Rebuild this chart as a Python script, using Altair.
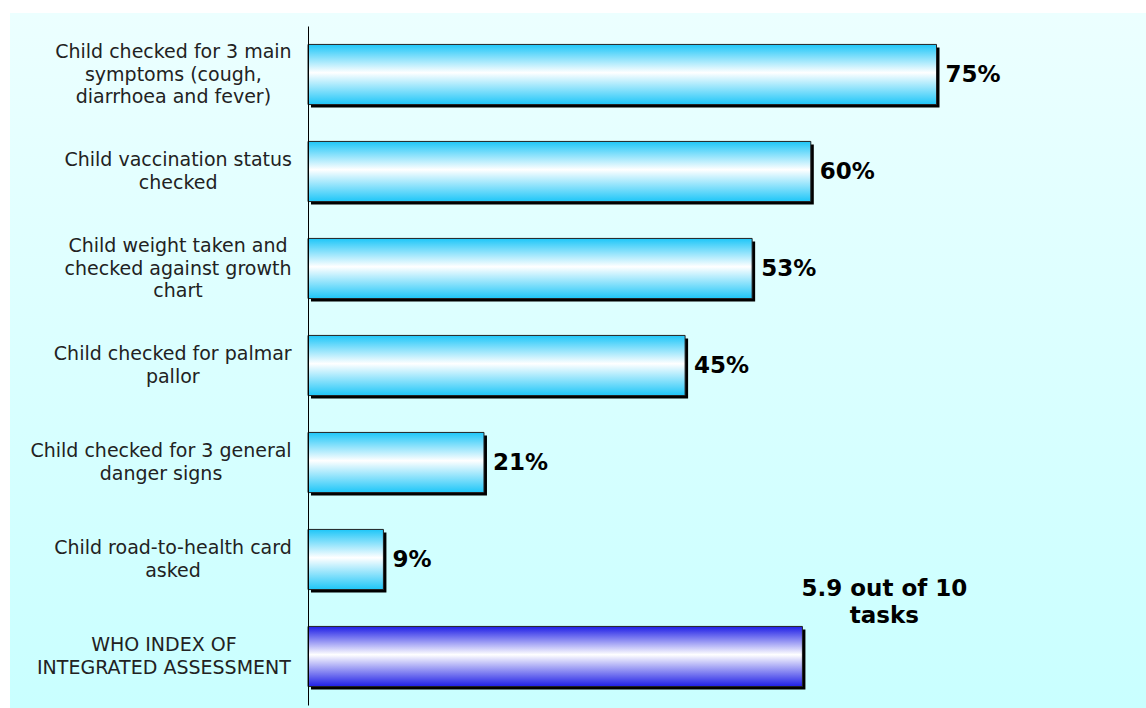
import altair as alt
import pandas as pd

# ---- data ----
categories = [
    "Child checked for 3 main|symptoms (cough,|diarrhoea and fever)",
    "Child vaccination status|checked",
    "Child weight taken and|checked against growth|chart",
    "Child checked for palmar|pallor",
    "Child checked for 3 general|danger signs",
    "Child road-to-health card|asked",
    "WHO INDEX OF|INTEGRATED ASSESSMENT",
]
values = [75, 60, 53, 45, 21, 9, 59]
value_labels = ["75%", "60%", "53%", "45%", "21%", "9%", ""]
kinds = ["task", "task", "task", "task", "task", "task", "index"]
annotation_lines = ["5.9 out of 10", "tasks"]

df = pd.DataFrame({
    "cat": categories,
    "value": values,
    "label": value_labels,
    "kind": kinds,
    "note": ["", "", "", "", "", "", "|".join(annotation_lines)],
})

# DejaVu Sans advance widths (em) used to centre each multi-line label block
# on its longest line, as the reference does.
EM = {
    " ": .318, "a": .613, "b": .635, "c": .550, "d": .635, "e": .615, "f": .352,
    "g": .635, "h": .634, "i": .278, "j": .278, "k": .579, "l": .278, "m": .974,
    "n": .634, "o": .612, "p": .635, "q": .635, "r": .411, "s": .521, "t": .392,
    "u": .634, "v": .592, "w": .818, "x": .592, "y": .592, "z": .525,
    "A": .684, "C": .698, "D": .770, "E": .632, "F": .575, "G": .775, "H": .752,
    "I": .295, "M": .863, "N": .748, "O": .787, "R": .695, "S": .635, "T": .611,
    "W": .989, "X": .685, "3": .636, "(": .390, ")": .390, ",": .318, "-": .361,
}
LABEL_SIZE = 19
LABEL_GAP = 16


def text_width(s):
    return sum(EM.get(ch, 0.6) for ch in s) * LABEL_SIZE


label_rows = []
for cat in categories:
    lines = cat.split("|")
    n = len(lines)
    maxw = max(text_width(l) for l in lines)
    for i, line in enumerate(lines):
        label_rows.append({
            "cat": cat,
            "line": line,
            "slot": i - (n - 1) / 2,
            "lx": -LABEL_GAP - maxw / 2,
        })
ldf = pd.DataFrame(label_rows)

W, H = 838, 679

yaxis = alt.Axis(
    title=None, labels=False, ticks=False,
    domainColor="#000000", domainWidth=1, zindex=1,
)
Y = alt.Y("cat:N", sort=None,
          scale=alt.Scale(domain=categories, paddingInner=0.38, paddingOuter=0.19),
          axis=yaxis)
X = alt.X("value:Q", scale=alt.Scale(domain=[0, 100], nice=False, zero=True), axis=None)


def grad(edge):
    return alt.Gradient(
        gradient="linear", x1=0, y1=0, x2=0, y2=1,
        stops=[
            alt.GradientStop(color=edge, offset=0),
            alt.GradientStop(color="#ffffff", offset=0.47),
            alt.GradientStop(color=edge, offset=1),
        ],
    )


bg = alt.Chart(pd.DataFrame({"a": [0]})).mark_rect(
    fill=alt.Gradient(
        gradient="linear", x1=0, y1=0, x2=0, y2=1,
        stops=[alt.GradientStop(color="#ecffff", offset=0),
               alt.GradientStop(color="#c9ffff", offset=1)],
    )
).encode(x=alt.value(-298), x2=alt.value(W), y=alt.value(-13), y2=alt.value(H + 3))

base = alt.Chart(df)

shadow = base.mark_bar(color="#000000", xOffset=3, x2Offset=3, yOffset=3).encode(x=X, y=Y)

bars_task = base.transform_filter("datum.kind == 'task'").mark_bar(
    fill=grad("#1ec6f8"), stroke="#222222", strokeWidth=1
).encode(x=X, y=Y)

bars_index = base.transform_filter("datum.kind == 'index'").mark_bar(
    fill=grad("#1e1ee6"), stroke="#222222", strokeWidth=1
).encode(x=X, y=Y)

labels = base.mark_text(
    align="left", baseline="middle", dx=9,
    font="DejaVu Sans", fontWeight="bold", fontSize=23, color="#000000",
).encode(x=X, y=Y, text="label:N")

note = base.transform_filter("datum.kind == 'index'").mark_text(
    align="center", baseline="middle", dx=82, dy=-68, lineBreak="|",
    font="DejaVu Sans", fontWeight="bold", fontSize=23, lineHeight=27, color="#000000",
).encode(x=X, y=Y, text="note:N")

cat_labels = alt.Chart(ldf).mark_text(
    align="center", baseline="middle",
    font="DejaVu Sans", fontSize=LABEL_SIZE, color="#222222",
).encode(
    x=alt.X("lx:Q", scale=None, axis=None),
    y=Y,
    yOffset=alt.YOffset("slot:Q", scale=alt.Scale(domain=[-1.31, 1.31])),
    text="line:N",
)

chart = alt.layer(bg, shadow, bars_task, bars_index, labels, note, cat_labels).resolve_scale(
    x="independent", yOffset="independent"
).properties(
    width=W, height=H,
    autosize=alt.AutoSizeParams(type="none"),
    padding={"left": 308, "top": 26, "right": 0, "bottom": 3},
    background="#ffffff",
).configure_view(stroke=None)

chart.save("out.html", embed_options={"renderer": "svg", "actions": False})
